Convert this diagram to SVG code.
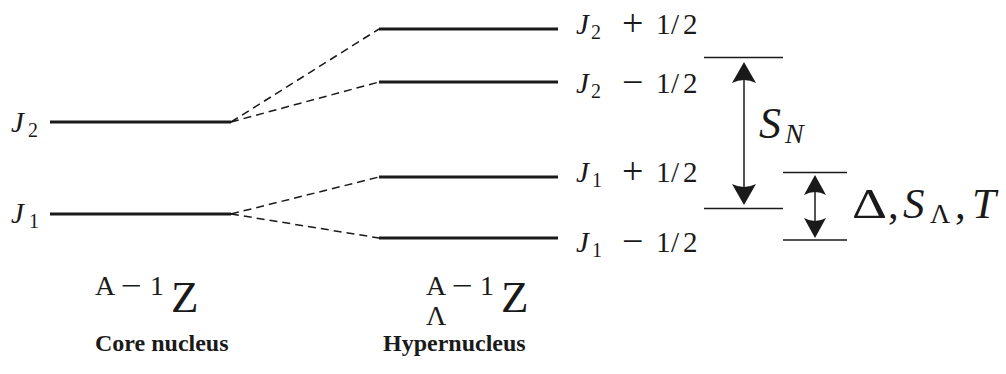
<svg xmlns="http://www.w3.org/2000/svg" width="1006" height="374" viewBox="0 0 1006 374">
<style>
.lvl{stroke:#1a1a1a;stroke-width:3;fill:none}
.dash{stroke:#1a1a1a;stroke-width:1.5;stroke-dasharray:8,5;fill:none}
.thin{stroke:#1a1a1a;stroke-width:1.5;fill:none}
.head{fill:#1a1a1a;stroke:none}
.m{font-family:"Liberation Serif","DejaVu Serif",serif;fill:#1a1a1a}
.it{font-style:italic}
.sub{font-size:20px}
.op{font-size:38px}
.b{font-family:"Liberation Serif",serif;font-weight:bold;font-size:24px;fill:#1a1a1a}
</style>
<rect width="1006" height="374" fill="#fff"/>
<g id="core-J2">
<line class="lvl" x1="50" y1="122" x2="231" y2="122"/>
<text class="m" y="132" font-size="29"><tspan class="it" x="11">J</tspan><tspan class="sub" x="28" dy="5">2</tspan></text>
</g>
<g id="core-J1">
<line class="lvl" x1="50" y1="214" x2="231" y2="214"/>
<text class="m" y="223" font-size="29"><tspan class="it" x="11">J</tspan><tspan class="sub" x="29" dy="5">1</tspan></text>
</g>
<g id="hyp-J2p">
<line class="lvl" x1="379" y1="29" x2="558" y2="29"/>
<text class="m" y="34" font-size="29"><tspan class="it" x="576">J</tspan><tspan class="sub" x="591" dy="5">2</tspan><tspan class="op" x="622" dy="-3">+</tspan><tspan x="656" dy="-2">1</tspan><tspan x="671">/</tspan><tspan x="683">2</tspan></text>
</g>
<g id="hyp-J2m">
<line class="lvl" x1="379" y1="82" x2="558" y2="82"/>
<text class="m" y="93" font-size="29"><tspan class="it" x="576">J</tspan><tspan class="sub" x="591" dy="5">2</tspan><tspan class="op" x="622" dy="-3">−</tspan><tspan x="656" dy="-2">1</tspan><tspan x="671">/</tspan><tspan x="683">2</tspan></text>
</g>
<g id="hyp-J1p">
<line class="lvl" x1="379" y1="177" x2="558" y2="177"/>
<text class="m" y="182" font-size="29"><tspan class="it" x="576">J</tspan><tspan class="sub" x="592" dy="5">1</tspan><tspan class="op" x="622" dy="-3">+</tspan><tspan x="656" dy="-2">1</tspan><tspan x="671">/</tspan><tspan x="683">2</tspan></text>
</g>
<g id="hyp-J1m">
<line class="lvl" x1="379" y1="238" x2="558" y2="238"/>
<text class="m" y="252" font-size="29"><tspan class="it" x="576">J</tspan><tspan class="sub" x="592" dy="5">1</tspan><tspan class="op" x="622" dy="-3">−</tspan><tspan x="656" dy="-2">1</tspan><tspan x="671">/</tspan><tspan x="683">2</tspan></text>
</g>
<g id="connectors">
<line class="dash" x1="231" y1="122" x2="379" y2="29"/>
<line class="dash" x1="231" y1="122" x2="379" y2="82"/>
<line class="dash" x1="231" y1="214" x2="379" y2="177"/>
<line class="dash" x1="231" y1="214" x2="379" y2="238"/>
</g>
<g id="SN">
<line class="thin" x1="704" y1="57.5" x2="783" y2="57.5"/>
<line class="thin" x1="704" y1="208.5" x2="783" y2="208.5"/>
<line class="thin" x1="744" y1="75" x2="744" y2="192"/>
<path class="head" d="M744,62 L756,83 Q744,77 732,83 Z"/>
<path class="head" d="M744,205 L756,184 Q744,190 732,184 Z"/>
<text class="m" y="138" font-size="44"><tspan class="it" x="759">S</tspan><tspan class="it" font-size="28" x="785" dy="5">N</tspan></text>
</g>
<g id="Delta">
<line class="thin" x1="783" y1="172.5" x2="847" y2="172.5"/>
<line class="thin" x1="783" y1="240" x2="847" y2="240"/>
<line class="thin" x1="815" y1="188" x2="815" y2="225"/>
<path class="head" d="M815,175 L826,195 Q815,189 804,195 Z"/>
<path class="head" d="M815,238 L826,218 Q815,224 804,218 Z"/>
<text class="m" x="852" y="218" font-size="43" textLength="35" lengthAdjust="spacingAndGlyphs">Δ</text>
<text class="m" y="218" font-size="43"><tspan x="888">,</tspan><tspan class="it" x="903">S</tspan><tspan font-size="28" x="930" dy="5">Λ</tspan><tspan x="955" dy="-5">,</tspan><tspan class="it" x="972">T</tspan></text>
</g>
<g id="core-label">
<text class="m" x="95" y="295" font-size="28">A</text>
<text class="m" x="121" y="295" font-size="28" textLength="21" lengthAdjust="spacingAndGlyphs">−</text>
<text class="m" x="150" y="295" font-size="28">1</text>
<text class="m" x="171" y="312" font-size="45">Z</text>
<text class="b" x="95" y="351">Core nucleus</text>
</g>
<g id="hyper-label">
<text class="m" x="426" y="295" font-size="28">A</text>
<text class="m" x="452" y="295" font-size="28" textLength="21" lengthAdjust="spacingAndGlyphs">−</text>
<text class="m" x="480" y="295" font-size="28">1</text>
<text class="m" x="426" y="325" font-size="28">Λ</text>
<text class="m" x="501" y="312" font-size="45">Z</text>
<text class="b" x="383" y="351">Hypernucleus</text>
</g>
</svg>
